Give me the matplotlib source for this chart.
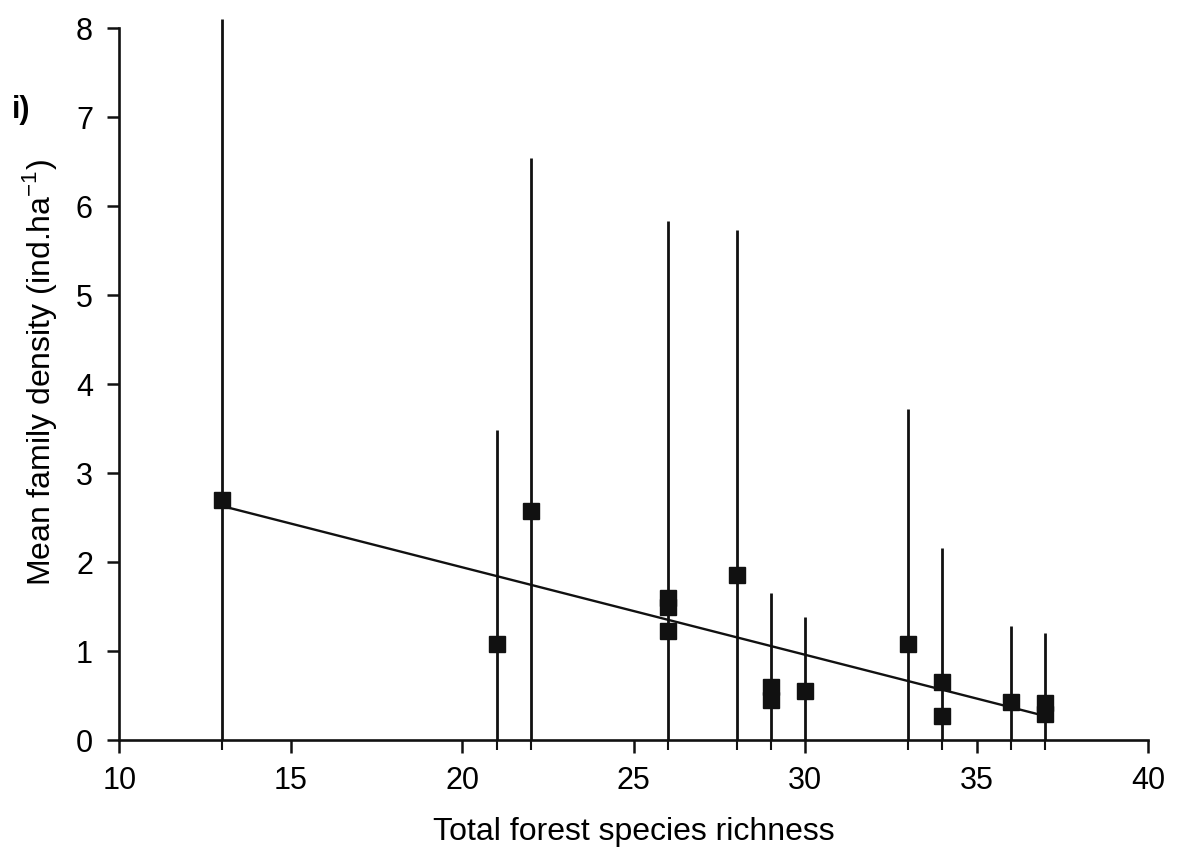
import matplotlib
matplotlib.use("Agg")
import matplotlib.pyplot as plt
import numpy as np

plt.rcParams['font.family'] = ['Liberation Sans', 'DejaVu Sans']

# Data
richness = [13, 21, 22, 26, 26, 26, 28, 29, 29, 30, 33, 34, 34, 36, 37, 37]
density = [2.70, 1.08, 2.57, 1.60, 1.50, 1.23, 1.85, 0.60, 0.45, 0.55, 1.08, 0.65, 0.27, 0.43, 0.42, 0.29]

# vertical error lines (lower, upper) at each richness value
bar_x = [13, 21, 22, 26, 28, 29, 30, 33, 34, 36, 37]
bar_low = [0, 0, 0, 0, 0, 0, 0, 0, 0, 0, 0]
bar_high = [8.1, 3.48, 6.54, 5.83, 5.73, 1.65, 1.38, 3.72, 2.16, 1.28, 1.20]

# regression line endpoints
trend_x = [13, 37]
trend_y = [2.63, 0.27]

xticks = [10, 15, 20, 25, 30, 35, 40]
yticks = [0, 1, 2, 3, 4, 5, 6, 7, 8]

fig = plt.figure(figsize=(11.84, 8.59), dpi=100)
ax = fig.add_axes([0.1008, 0.1385, 0.8688, 0.8285])

ax.vlines(bar_x, bar_low, bar_high, colors='#111111', linewidth=2.0, clip_on=False, zorder=2)
ax.plot(trend_x, trend_y, color='#111111', linewidth=1.7, zorder=3)
ax.plot(richness, density, linestyle='none', marker='s', markersize=11.5,
        color='#111111', zorder=4, clip_on=False)

ax.set_xlim(10, 40)
ax.set_ylim(0, 8)
ax.set_xticks(xticks)
ax.set_yticks(yticks)
ax.set_xticks(sorted(set(bar_x)), minor=True)
ax.tick_params(axis='x', which='minor', length=7, width=1.5, direction='out', color='#111111')
ax.tick_params(axis='both', which='major', length=9, width=1.8, labelsize=22, color='#111111')
ax.tick_params(axis='x', which='major', pad=10)
ax.tick_params(axis='y', which='major', pad=10)

for s in ['top', 'right']:
    ax.spines[s].set_visible(False)
for s in ['left', 'bottom']:
    ax.spines[s].set_linewidth(1.9)
    ax.spines[s].set_color('#111111')

ax.set_xlabel('Total forest species richness', fontsize=23)
ax.xaxis.set_label_coords(0.5, -0.108)
ax.set_ylabel('Mean family density (ind.ha$^{\\mathregular{-1}}$)', fontsize=23)
ax.yaxis.set_label_coords(-0.059, 0.517)
fig.text(0.010, 0.872, 'i)', fontsize=22, fontweight='bold', ha='left', va='center')

fig.savefig('out.png', dpi=100, facecolor='white')
